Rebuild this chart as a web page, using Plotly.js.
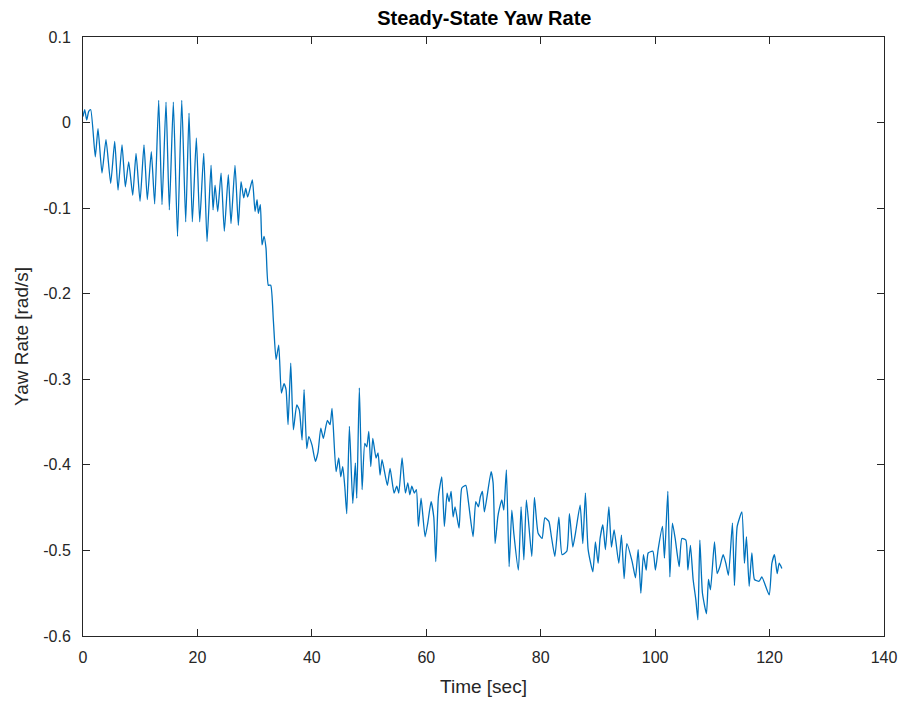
<!DOCTYPE html>
<html>
<head>
<meta charset="utf-8">
<script src="https://cdn.plot.ly/plotly-3.0.1.min.js"></script>
<style>html,body{margin:0;padding:0;background:#fff;}#chart{width:902px;height:701px;}</style>
</head>
<body>
<div id="chart"></div>
<script>
const timeSec = [0,0.30,0.65,1.0,1.35,2.15,2.62,3.32,4.02,4.84,5.54,6.12,6.82,7.40,7.99,8.69,9.27,9.97,10.66,11.24,11.94,12.53,13.23,13.81,14.51,15.09,15.79,16.52,17.26,17.95,18.53,19.11,19.81,20.40,21.10,21.68,22.38,22.73,23.08,23.55,24.13,24.70,25.40,25.87,26.57,27.15,27.62,28.09,28.44,28.79,29.60,30.07,30.42,30.65,31.00,31.29,31.64,31.99,32.39,32.81,33.27,33.74,34.21,34.67,35.14,35.49,35.84,36.31,36.77,37.36,37.81,38.29,38.64,39.11,39.46,40.03,40.61,41.08,41.56,42.01,42.71,43.18,43.53,44.23,44.70,45.05,45.40,45.75,46.10,46.56,47.15,47.60,47.85,48.30,48.78,49.25,49.60,49.95,50.30,50.65,51.22,51.57,51.92,52.27,53.20,53.67,54.37,54.84,55.19,55.77,56.35,56.77,57.12,57.47,57.92,58.27,58.62,59.09,59.79,60.26,60.84,61.31,61.66,62.12,62.71,63.16,63.64,63.99,64.34,64.69,65.03,65.73,66.21,66.91,67.36,68.18,68.65,69.11,69.46,69.81,70.16,71.33,71.68,72.03,72.50,72.85,73.20,73.55,74.00,74.48,74.95,75.30,76.10,76.57,77.05,77.50,78.44,78.90,79.55,80.24,80.72,81.42,81.87,82.47,83.17,83.74,84.56,85.02,85.61,86.07,86.89,87.36,87.81,88.29,89.11,89.56,90.03,90.38,90.86,91.31,91.91,92.36,92.83,93.65,94.11,94.58,95.05,95.98,96.56,97.03,97.50,97.95,98.43,98.78,99.60,100.05,100.52,101.28,101.63,102.22,102.57,103.02,103.50,104.20,104.67,105.37,105.72,106.17,106.64,107.12,107.47,107.81,108.27,108.97,109.32,109.67,110.37,110.84,111.31,111.89,112.36,112.81,113.51,113.86,114.34,115.16,115.61,115.96,116.43,116.90,117.36,118.18,118.65,119.93,120.40,120.86,121.33,121.68,122.15];
const yawRate = [0.007,0.015,0.003,0.013,0.015,-0.040,-0.007,-0.059,-0.020,-0.071,-0.022,-0.079,-0.026,-0.075,-0.046,-0.085,-0.036,-0.092,-0.026,-0.090,-0.034,-0.095,0.026,-0.096,0.024,-0.102,0.024,-0.133,0.026,-0.116,0.011,-0.116,-0.018,-0.116,-0.036,-0.139,-0.050,-0.102,-0.073,-0.104,-0.059,-0.127,-0.061,-0.118,-0.050,-0.120,-0.069,-0.088,-0.077,-0.087,-0.067,-0.104,-0.090,-0.106,-0.096,-0.143,-0.133,-0.147,-0.190,-0.190,-0.231,-0.277,-0.260,-0.316,-0.305,-0.312,-0.353,-0.281,-0.359,-0.330,-0.336,-0.371,-0.312,-0.381,-0.367,-0.377,-0.396,-0.385,-0.357,-0.369,-0.348,-0.353,-0.334,-0.408,-0.392,-0.414,-0.402,-0.425,-0.457,-0.355,-0.445,-0.398,-0.439,-0.310,-0.429,-0.375,-0.379,-0.361,-0.402,-0.369,-0.392,-0.386,-0.412,-0.394,-0.424,-0.404,-0.433,-0.425,-0.433,-0.392,-0.433,-0.421,-0.435,-0.425,-0.433,-0.429,-0.472,-0.439,-0.484,-0.468,-0.443,-0.461,-0.513,-0.437,-0.414,-0.472,-0.433,-0.443,-0.431,-0.461,-0.449,-0.474,-0.427,-0.424,-0.443,-0.484,-0.443,-0.449,-0.437,-0.431,-0.455,-0.408,-0.421,-0.492,-0.461,-0.449,-0.441,-0.453,-0.406,-0.519,-0.453,-0.480,-0.523,-0.449,-0.511,-0.441,-0.507,-0.438,-0.480,-0.486,-0.462,-0.466,-0.484,-0.507,-0.461,-0.505,-0.501,-0.457,-0.496,-0.480,-0.447,-0.492,-0.433,-0.499,-0.525,-0.490,-0.515,-0.486,-0.470,-0.499,-0.449,-0.496,-0.476,-0.515,-0.482,-0.533,-0.492,-0.513,-0.532,-0.499,-0.550,-0.505,-0.523,-0.503,-0.501,-0.523,-0.499,-0.472,-0.509,-0.431,-0.531,-0.468,-0.486,-0.519,-0.486,-0.488,-0.523,-0.494,-0.534,-0.558,-0.581,-0.488,-0.550,-0.574,-0.534,-0.546,-0.490,-0.527,-0.519,-0.505,-0.515,-0.529,-0.468,-0.541,-0.472,-0.455,-0.515,-0.484,-0.542,-0.503,-0.534,-0.536,-0.531,-0.552,-0.515,-0.505,-0.527,-0.515,-0.521];
const xTickVals = [0,20,40,60,80,100,120,140];
const xTickText = ['0','20','40','60','80','100','120','140'];
const yTickVals = [0.1,0,-0.1,-0.2,-0.3,-0.4,-0.5,-0.6];
const yTickText = ['0.1','0','-0.1','-0.2','-0.3','-0.4','-0.5','-0.6'];

const axisColor = '#262626';
const fontFam = 'Liberation Sans, Arial, Helvetica, sans-serif';

const trace = {
  x: timeSec, y: yawRate, type: 'scatter', mode: 'lines',
  line: {color: '#0072BD', width: 1.3, shape: 'spline', smoothing: 0.5},
  hoverinfo: 'skip'
};

const layout = {
  width: 902, height: 701,
  margin: {l: 83, r: 18, t: 37, b: 65, pad: 0},
  paper_bgcolor: '#fff', plot_bgcolor: '#fff',
  showlegend: false,
  font: {family: fontFam, color: axisColor, size: 16},
  title: {text: '<b>Steady-State Yaw Rate</b>', font: {family: fontFam, size: 20, color: '#000'}, x: 0.537, xanchor: 'center', y: 0.975, yanchor: 'middle'},
  xaxis: {
    range: [0, 140], tickvals: xTickVals, ticktext: xTickText,
    showgrid: false, zeroline: false, showline: true, mirror: 'ticks',
    linecolor: axisColor, linewidth: 1, ticks: 'inside', ticklen: 7, tickcolor: axisColor,
    ticklabelstandoff: 7,
    tickfont: {size: 16, color: axisColor},
    title: {text: 'Time [sec]', font: {size: 19, color: axisColor}, standoff: 14}
  },
  yaxis: {
    range: [-0.6, 0.1], tickvals: yTickVals, ticktext: yTickText,
    showgrid: false, zeroline: false, showline: true, mirror: 'ticks',
    linecolor: axisColor, linewidth: 1, ticks: 'inside', ticklen: 7, tickcolor: axisColor,
    ticklabelstandoff: 8,
    tickfont: {size: 16, color: axisColor},
    title: {text: 'Yaw Rate [rad/s]', font: {size: 19, color: axisColor}, standoff: 9}
  }
};

Plotly.newPlot('chart', [trace], layout, {displayModeBar: false, staticPlot: true});
</script>
</body>
</html>
